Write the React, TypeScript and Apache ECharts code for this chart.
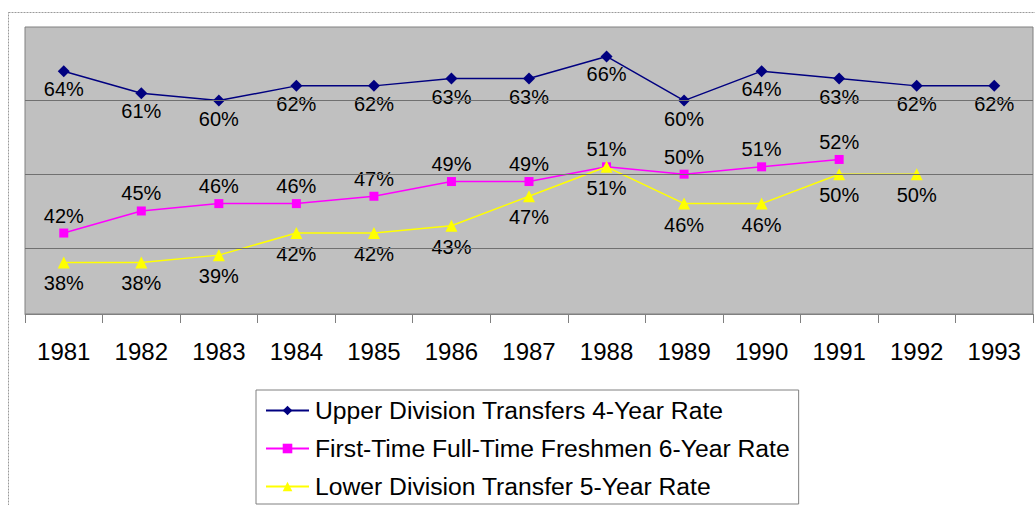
import React, { useEffect, useRef } from "react";
import * as echarts from "echarts";

const years = ["1981", "1982", "1983", "1984", "1985", "1986", "1987", "1988", "1989", "1990", "1991", "1992", "1993"];
const upperDivision = [64, 61, 60, 62, 62, 63, 63, 66, 60, 64, 63, 62, 62];
const freshmen = [42, 45, 46, 46, 47, 49, 49, 51, 50, 51, 52];
const lowerDivision = [38, 38, 39, 42, 42, 43, 47, 51, 46, 46, 50, 50];
const gridValues = [40, 50, 60];
const seriesNames = [
  "Upper Division Transfers 4-Year Rate",
  "First-Time Full-Time Freshmen 6-Year Rate",
  "Lower Division Transfer 5-Year Rate",
];

const FONT = "'Liberation Sans', Arial, sans-serif";

export default function App() {
  const ref = useRef<HTMLDivElement>(null);
  useEffect(() => {
    if (!ref.current) return;
    const chart = echarts.init(ref.current, undefined, { renderer: "svg" });
    const labelBase = {
      show: true,
      formatter: "{c}%",
      color: "#000",
      fontSize: 20,
      fontFamily: FONT,
    };
    chart.setOption({
      animation: false,
      backgroundColor: "#fff",
      textStyle: { fontFamily: FONT },
      graphic: [
        {
          type: "rect",
          shape: { x: 8.5, y: 12.5, width: 1100, height: 600 },
          style: { fill: "none", stroke: "#9a9a9a", lineWidth: 1, lineDash: [2, 1] },
          silent: true,
          z: -1,
        },
      ],
      grid: {
        left: 25,
        right: 2,
        top: 27,
        bottom: 191,
        show: true,
        backgroundColor: "#C0C0C0",
        borderColor: "#808080",
        borderWidth: 1,
      },
      xAxis: {
        type: "category",
        data: years,
        boundaryGap: true,
        axisLine: { show: true, lineStyle: { color: "#808080", width: 1 } },
        axisTick: { show: true, interval: 0, length: 9, lineStyle: { color: "#808080" } },
        axisLabel: { color: "#000", fontSize: 24, fontFamily: FONT, margin: 25, interval: 0 },
        splitLine: { show: false },
      },
      yAxis: {
        type: "value",
        min: 31,
        max: 70,
        axisLine: { show: false },
        axisTick: { show: false },
        axisLabel: { show: false },
        splitLine: { show: false },
      },
      legend: {
        data: seriesNames,
        orient: "vertical",
        left: 256,
        top: 390,
        itemWidth: 43,
        itemHeight: 12,
        itemGap: 13,
        padding: [8, 9, 5, 9],
        borderColor: "#808080",
        borderWidth: 1,
        backgroundColor: "#fff",
        textStyle: { color: "#000", fontSize: 24.7, fontFamily: FONT, lineHeight: 25, padding: [0, 0, 0, 1] },
      },
      series: [
        {
          type: "line",
          name: "gridlines",
          data: [],
          z: 1,
          markLine: {
            silent: true,
            symbol: "none",
            label: { show: false },
            lineStyle: { color: "#707070", type: "solid", width: 1 },
            data: gridValues.map((v) => ({ yAxis: v })),
          },
        },
        {
          type: "line",
          name: seriesNames[0],
          data: upperDivision,
          z: 3,
          symbol: "diamond",
          symbolSize: 12,
          itemStyle: { color: "#000080" },
          lineStyle: { color: "#000080", width: 1.5 },
          label: { ...labelBase, position: "bottom", distance: 2 },
        },
        {
          type: "line",
          name: seriesNames[1],
          data: freshmen,
          z: 3,
          symbol: "rect",
          symbolSize: 9,
          itemStyle: { color: "#FF00FF" },
          lineStyle: { color: "#FF00FF", width: 1.5 },
          label: { ...labelBase, position: "top", distance: 3 },
        },
        {
          type: "line",
          name: seriesNames[2],
          data: lowerDivision,
          z: 4,
          symbol: "triangle",
          symbolSize: 12,
          itemStyle: { color: "#FFFF00" },
          lineStyle: { color: "#FFFF00", width: 1.5 },
          label: { ...labelBase, position: "bottom", distance: 5 },
        },
      ],
    });
    return () => chart.dispose();
  }, []);
  return (
    <div
      ref={ref}
      style={{ position: "absolute", left: 0, top: 0, width: 1035, height: 505 }}
    />
  );
}
